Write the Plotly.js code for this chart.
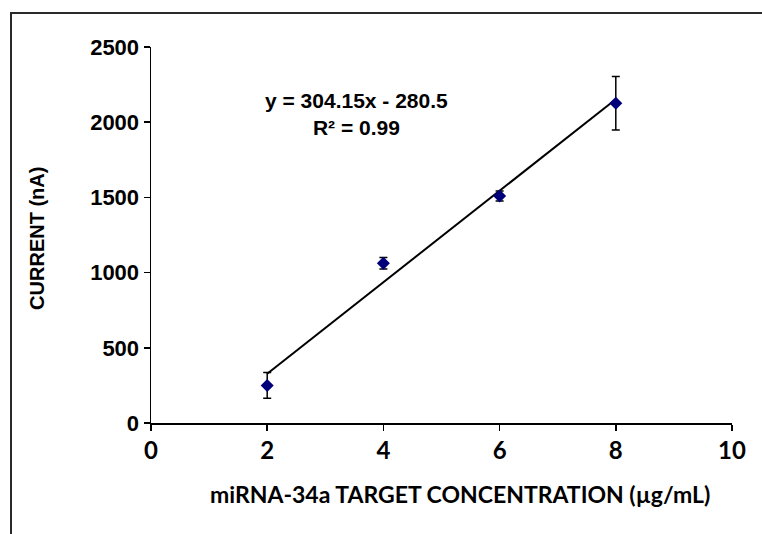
<!DOCTYPE html>
<html>
<head>
<meta charset="utf-8">
<script src="https://cdn.plot.ly/plotly-3.0.1.min.js"></script>
<style>
  html, body { margin: 0; padding: 0; background: #fff; overflow: hidden; }
  #chart { width: 762px; height: 534px; }
  #frame { position: absolute; left: 10px; top: 12px; width: 800px; height: 600px;
           border-left: 2px solid #2a2a2a; border-top: 2px solid #2a2a2a; pointer-events: none; }
</style>
</head>
<body>
<div id="chart"></div>
<div id="frame"></div>
<script>
// Data
const concentration = [2, 4, 6, 8];            // µg/mL
const current = [250, 1062, 1509, 2126];       // nA
const currentError = [85, 38, 33, 178];        // nA (± error bars)

// Linear trendline as reported on the chart
const slope = 304.15;
const intercept = -280.5;
const trendX = [2, 8];
const trendY = trendX.map(x => slope * x + intercept);

const xTicks = [0, 2, 4, 6, 8, 10];
const yTicks = [0, 500, 1000, 1500, 2000, 2500];

const xTitle = 'miRNA-34a TARGET CONCENTRATION (µg/mL)';
const yTitle = 'CURRENT (nA)';
const equationText = 'y = 304.15x - 280.5<br>R² = 0.99';

const arialBold = '"Liberation Sans", Arial, sans-serif';
const calibriBold = 'Lato, Carlito, Calibri, sans-serif';

const traces = [
  {
    x: trendX, y: trendY, type: 'scatter', mode: 'lines',
    line: { color: '#000000', width: 2 },
    hoverinfo: 'skip', showlegend: false
  },
  {
    x: concentration, y: current, type: 'scatter', mode: 'markers',
    marker: { symbol: 'diamond', size: 10, color: '#00007a' },
    error_y: { type: 'data', array: currentError, visible: true,
               color: '#000000', thickness: 1.5, width: 4 },
    showlegend: false, cliponaxis: false
  }
];

const layout = {
  width: 762, height: 534,
  margin: { l: 151, r: 30, t: 47, b: 111 },
  paper_bgcolor: '#ffffff', plot_bgcolor: '#ffffff',
  showlegend: false,
  xaxis: {
    range: [0, 10], tickvals: xTicks, ticktext: xTicks.map(String),
    showgrid: false, zeroline: false,
    showline: true, linecolor: '#000', linewidth: 1.5,
    ticks: 'outside', ticklen: 6, tickwidth: 1.5, tickcolor: '#000',
    tickfont: { family: calibriBold, size: 24, color: '#000', weight: 'bold' }
  },
  yaxis: {
    range: [0, 2500], tickvals: yTicks, ticktext: yTicks.map(String),
    showgrid: false, zeroline: false,
    showline: true, linecolor: '#000', linewidth: 1.5,
    ticks: 'outside', ticklen: 6, tickwidth: 1.5, tickcolor: '#000',
    tickfont: { family: arialBold, size: 22, color: '#000', weight: 'bold' }
  },
  annotations: [
    {
      x: 3.54, y: 2055, xref: 'x', yref: 'y',
      text: equationText, showarrow: false, align: 'center',
      font: { family: arialBold, size: 21, color: '#000', weight: 'bold' }
    },
    {
      x: 0.531, y: -0.189, xref: 'paper', yref: 'paper',
      xanchor: 'center', yanchor: 'middle',
      text: xTitle, showarrow: false,
      font: { family: calibriBold, size: 23, color: '#000', weight: 'bold' }
    },
    {
      x: -0.196, y: 0.49, xref: 'paper', yref: 'paper',
      xanchor: 'center', yanchor: 'middle', textangle: -90,
      text: yTitle, showarrow: false,
      font: { family: arialBold, size: 20, color: '#000', weight: 'bold' }
    }
  ]
};

Plotly.newPlot('chart', traces, layout, { displayModeBar: false, staticPlot: true });
</script>
</body>
</html>
